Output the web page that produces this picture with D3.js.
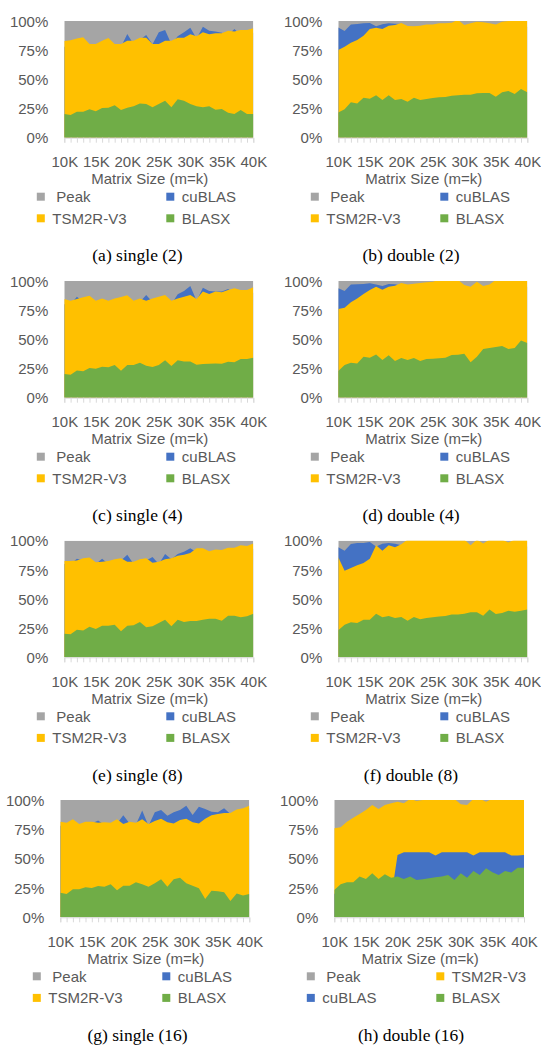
<!DOCTYPE html>
<html>
<head>
<meta charset="utf-8">
<script src="https://cdn.jsdelivr.net/npm/d3@7"></script>
<style>
  html, body { margin: 0; padding: 0; background: #ffffff; }
  svg { display: block; }
</style>
</head>
<body>
<svg id="chart" width="541" height="1045"></svg>
<script>
// ---------- data (percent of peak) ----------
const sizes = [10,11,12,13,14,15,16,17,18,19,20,21,22,23,24,25,26,27,28,29,30,31,32,33,34,35,36,37,38,39,40];
const xTickValues = [10,15,20,25,30,35,40];
const xTickLabels = ["10K","15K","20K","25K","30K","35K","40K"];
const yTickValues = [0,25,50,75,100];
const yTickLabels = ["0%","25%","50%","75%","100%"];
const seriesNames = ["Peak","cuBLAS","TSM2R-V3","BLASX"];

const peak = [100,100,100,100,100,100,100,100,100,100,100,100,100,100,100,100,100,100,100,100,100,100,100,100,100,100,100,100,100,100,100];

// (a) single (2)
const a_cublas = [78,78,80,82,78,78,80,82,78,78,88.9,80,84,88,80,90.3,92.3,80,87,90.3,94.3,85,95.1,91.7,90.9,90,88,93.1,88,88,90];
const a_tsm2r  = [82.9,83.4,85,86,80.3,80.3,83,85.5,80.3,80.3,83,83,85.7,85.7,80.3,80.3,83,83,85.7,85.7,88.6,87,90.3,88.6,89.4,89.4,91.7,90.9,92.3,92.3,93.7];
const a_blasx  = [20.3,19.4,22.3,22.3,24.3,22.6,25.4,25.7,27.7,23.7,25.7,26.9,29.4,28.9,26,28.9,31.7,26,32.9,31.7,28.9,26.9,26,26.9,24,24.6,21.4,20.3,23.7,20.3,20.3];

// (b) double (2)
const b_cublas = [94.5,91.5,97,97.4,98,98.3,95.5,97.2,98,97.7,97.5,90,90,92,93,94,95,95,95,95,93,94,95,95,94,93,95,96,96,96,95];
const b_tsm2r  = [75.1,78,81.4,83.7,87.4,93.1,94.3,93.1,96,96.6,98.3,95.7,95.4,96,97.1,97.1,98,98,98.6,101,96.6,98,99.4,98.9,98,97.1,99.4,100,101,101,100];
const b_blasx  = [21.7,24.3,30.3,29.4,34.3,33.4,36.3,32.3,36.3,32.3,33.1,30.9,34.3,32.3,33.1,34,34.6,34.9,36,36.3,36.9,36.9,38,38.3,38.3,35.1,38.9,40,37.4,41.7,38.9];

// (c) single (4)
const c_cublas = [80,80,86.5,82,84,80,82,80,82,83,84,80,82,88,82,83,84,80,88.6,91.4,95.7,83,94.3,91.4,90.9,90.9,93.1,90,89,89,90];
const c_tsm2r  = [84.6,83.1,84.6,86,87.4,83.1,85.1,83.1,85.1,86.3,87.7,83.1,85.1,83.1,85.1,86.6,88,83.1,85.1,86.6,88,84.6,90.9,88.9,90.9,90.3,92.3,93.7,92.3,92.3,94.6];
const c_blasx  = [20.3,19.7,23.4,22.6,25.4,24.9,26.6,26,28,23.1,28,28,30,27.4,26.3,28,32,27.1,32,31.1,31.1,28.3,28.9,29.1,29.4,29.1,30.9,30.3,33.1,33.1,34.3];

// (d) double (4)
const d_cublas = [93.7,91.4,97.1,97.2,97.5,98,97.1,95.7,97.4,97.2,96,92,93,94,94,95,95,95,95,95,93,92,94,93,94,95,95,95,95,95,95];
const d_tsm2r  = [76,77.1,81.7,85.1,88.9,92.3,95.1,92.6,95.1,96,98.3,97.1,97.7,98.3,98.9,99.4,101,101,101,101,96.6,95.1,99.4,95.7,97.1,101,101,101,101,101,100];
const d_blasx  = [22.9,28,30,29.4,35.1,34.3,37.1,32.3,36.3,31.4,34,32.3,34,31.4,33.1,33.4,33.7,34.3,36.6,36.9,37.7,30.3,35.1,41.7,42.6,43.4,44.3,41.7,42.6,49.1,46.9];

// (e) single (8)
const e_cublas = [80,80,84.5,83,83,80,84.5,80,82,83,88,80,82,83,86,80,88.5,84,88.5,90.5,93.5,90,90,89,90,90,91,91,92,92,93];
const e_tsm2r  = [82.5,82.5,83,85,85.5,81.5,82,82.5,84,85,82,82,84,85,81,82,84,85,87,88,89.5,93.5,93.5,91,92.5,92,94,94,96,95.5,97.5];
const e_blasx  = [20.3,19.7,23.7,22.9,26.3,24.3,27.1,27.1,28,22.3,27.1,27.4,30.3,25.7,26.6,29.4,32.3,26.6,32.3,30.3,31.1,31.1,32.3,33.1,33.1,31.4,35.7,35.7,34.3,35.1,37.4];

// (f) double (8)
const f_cublas = [94.3,91.4,97.1,98,98,98.9,95,97.4,98,97.4,96,93,93,93,93,94,94,94,95,95,95,94,95,95,95,95,95,95,95,95,95];
const f_tsm2r  = [85.7,74.3,76.6,78.9,80.9,84.6,96,91.4,96,94.3,97,101,101,101,101,101,101,101,101,101,101,96,101,97.5,101,101,101,98.5,101,101,101];
const f_blasx  = [23.1,28,30,29.4,32.3,32.3,37.4,34.3,35.4,33.7,34.6,31.4,34.6,32.6,33.7,34.3,34.9,35.4,36.6,36.6,37.4,38.6,38.6,35.7,40.9,37.1,38,40,39.1,40,41.1];

// (g) single (16)
const g_cublas = [78,78,80,77,79,80,82.5,79,78,80,87,80,79,91,78,89.5,91.5,86.6,89.5,91.5,95,87.2,94.3,92.3,90,89.5,93,88,90,91,93];
const g_tsm2r  = [81.5,80.5,83.5,79.5,81.5,81.5,80.5,81,80.5,83.5,79.5,81.5,80.5,83.5,79.5,82,84,81,80,83,84,81,80,84,87,88,89,89,92,93,95];
const g_blasx  = [21,19.9,23.9,23.9,25.6,25,26.7,26.1,28.1,23,27,27,29.8,28.1,26.1,29,32.4,26.1,32.4,33.8,29,27,24.7,15.6,22.7,22.2,21.3,13.9,20.2,18.5,19.9];

// (h) double (16)
const h_cublas = [20,21,22,22,24,24,25,24,25,17,53.1,55.4,55.4,55.4,55.4,55.4,52.6,55.4,55.4,55.4,55.4,55.4,52.6,55.4,55.4,55.4,55.4,55.4,52.6,52.6,53.1];
const h_tsm2r  = [75.9,76.7,81.5,84.9,88.1,91.5,95.7,92.3,95.7,97.2,98.6,97.2,101,99.1,100,101,101,101,101,101,96.3,95.7,101,101,98.6,101,101,101,101,101,101];
const h_blasx  = [23.3,28.1,29.8,29.8,34.7,32.7,37.5,32.7,36.6,33.8,34.7,32.7,34.7,31.8,32.4,33.2,34.1,34.7,36.1,31.8,37.5,33.8,39.5,36.1,41.8,38.4,36.1,39.5,38.1,42.3,42.3];

// ---------- styling / layout ----------
const colors = { "Peak": "#a5a5a5", "cuBLAS": "#4472c4", "TSM2R-V3": "#ffc000", "BLASX": "#70ad47" };
const textColor = "#595959";
const axisFont = "'Liberation Sans', Arial, sans-serif";
const captionFont = "'Liberation Serif', 'Times New Roman', serif";

const panels = [
  { caption: "(a) single (2)",  x0: 64.3,  x1: 253.3, top: 21,    bottom: 137.7, capX: 137.5,
    series: { "Peak": peak, "cuBLAS": a_cublas, "TSM2R-V3": a_tsm2r, "BLASX": a_blasx },
    order: ["Peak","cuBLAS","TSM2R-V3","BLASX"], legend: [["Peak","cuBLAS"],["TSM2R-V3","BLASX"]] },
  { caption: "(b) double (2)",  x0: 338.3, x1: 527.3, top: 21,    bottom: 137.7, capX: 411,
    series: { "Peak": peak, "cuBLAS": b_cublas, "TSM2R-V3": b_tsm2r, "BLASX": b_blasx },
    order: ["Peak","cuBLAS","TSM2R-V3","BLASX"], legend: [["Peak","cuBLAS"],["TSM2R-V3","BLASX"]] },
  { caption: "(c) single (4)",  x0: 64.3,  x1: 253.3, top: 281,   bottom: 397.7, capX: 137.5,
    series: { "Peak": peak, "cuBLAS": c_cublas, "TSM2R-V3": c_tsm2r, "BLASX": c_blasx },
    order: ["Peak","cuBLAS","TSM2R-V3","BLASX"], legend: [["Peak","cuBLAS"],["TSM2R-V3","BLASX"]] },
  { caption: "(d) double (4)",  x0: 338.3, x1: 527.3, top: 281,   bottom: 397.7, capX: 411,
    series: { "Peak": peak, "cuBLAS": d_cublas, "TSM2R-V3": d_tsm2r, "BLASX": d_blasx },
    order: ["Peak","cuBLAS","TSM2R-V3","BLASX"], legend: [["Peak","cuBLAS"],["TSM2R-V3","BLASX"]] },
  { caption: "(e) single (8)",  x0: 64.3,  x1: 253.3, top: 540.7, bottom: 657.3, capX: 137.5,
    series: { "Peak": peak, "cuBLAS": e_cublas, "TSM2R-V3": e_tsm2r, "BLASX": e_blasx },
    order: ["Peak","cuBLAS","TSM2R-V3","BLASX"], legend: [["Peak","cuBLAS"],["TSM2R-V3","BLASX"]] },
  { caption: "(f) double (8)",  x0: 338.3, x1: 527.3, top: 540.7, bottom: 657.3, capX: 411,
    series: { "Peak": peak, "cuBLAS": f_cublas, "TSM2R-V3": f_tsm2r, "BLASX": f_blasx },
    order: ["Peak","cuBLAS","TSM2R-V3","BLASX"], legend: [["Peak","cuBLAS"],["TSM2R-V3","BLASX"]] },
  { caption: "(g) single (16)", x0: 60.3,  x1: 249.3, top: 800,   bottom: 917.3, capX: 137.5,
    series: { "Peak": peak, "cuBLAS": g_cublas, "TSM2R-V3": g_tsm2r, "BLASX": g_blasx },
    order: ["Peak","cuBLAS","TSM2R-V3","BLASX"], legend: [["Peak","cuBLAS"],["TSM2R-V3","BLASX"]] },
  { caption: "(h) double (16)", x0: 334.3, x1: 524,   top: 800,   bottom: 917.3, capX: 411,
    series: { "Peak": peak, "cuBLAS": h_cublas, "TSM2R-V3": h_tsm2r, "BLASX": h_blasx },
    order: ["Peak","TSM2R-V3","cuBLAS","BLASX"], legend: [["Peak","TSM2R-V3"],["cuBLAS","BLASX"]] }
];

const svg = d3.select("#chart");

panels.forEach((p, pi) => {
  const g = svg.append("g");
  const x = d3.scaleLinear().domain([sizes[0], sizes[sizes.length - 1]]).range([p.x0, p.x1]);
  const y = d3.scaleLinear().domain([0, 100]).range([p.bottom, p.top]);

  const clipId = "clip" + pi;
  svg.append("clipPath").attr("id", clipId)
    .append("rect").attr("x", p.x0).attr("y", p.top)
    .attr("width", p.x1 - p.x0).attr("height", p.bottom - p.top);

  const area = d3.area()
    .x((d, i) => x(sizes[i]))
    .y0(y(0))
    .y1(d => y(d));

  const plot = g.append("g").attr("clip-path", `url(#${clipId})`);
  p.order.forEach(name => {
    plot.append("path")
      .datum(p.series[name])
      .attr("d", area)
      .attr("fill", colors[name]);
  });

  // x axis: line + a tick at every category
  const xAxis = d3.axisBottom(x).tickValues(sizes).tickSize(5).tickFormat("");
  const xg = g.append("g").attr("transform", `translate(0,${p.bottom})`).call(xAxis);
  xg.select(".domain").attr("stroke", "#d9d9d9");
  xg.selectAll(".tick line").attr("stroke", "#d9d9d9");

  // x tick labels
  const xl = d3.axisBottom(x).tickValues(xTickValues).tickSize(0)
    .tickFormat((d, i) => xTickLabels[i]);
  const xlg = g.append("g").attr("transform", `translate(0,${p.bottom})`).call(xl);
  xlg.select(".domain").remove();
  xlg.selectAll("text")
    .attr("y", 24.5).attr("dy", "0.35em")
    .attr("fill", textColor)
    .style("font-family", axisFont).style("font-size", "15px");

  // y axis labels
  const yl = d3.axisLeft(y).tickValues(yTickValues).tickSize(0)
    .tickFormat((d, i) => yTickLabels[i]);
  const ylg = g.append("g").attr("transform", `translate(${p.x0},0)`).call(yl);
  ylg.select(".domain").remove();
  ylg.selectAll("text")
    .attr("x", -16).attr("dy", "0.35em")
    .attr("fill", textColor)
    .style("font-family", axisFont).style("font-size", "15px");

  // axis title
  g.append("text")
    .attr("x", (p.x0 + p.x1) / 2 - 9)
    .attr("y", p.bottom + 41.3)
    .attr("dy", "0.35em")
    .attr("text-anchor", "middle")
    .attr("fill", textColor)
    .style("font-family", axisFont).style("font-size", "15px")
    .text("Matrix Size (m=k)");

  // legend
  const rowY = [p.bottom + 59, p.bottom + 80.6];
  const colX = [p.x0 - 27.5, p.x0 + 102];
  p.legend.forEach((row, ri) => {
    row.forEach((name, ci) => {
      const lx = colX[ci], ly = rowY[ri];
      g.append("rect")
        .attr("x", lx).attr("y", ly - 4)
        .attr("width", 8).attr("height", 8)
        .attr("fill", colors[name]);
      g.append("text")
        .attr("x", lx + (name === "Peak" ? 19.5 : 15.5))
        .attr("y", ly).attr("dy", "0.35em")
        .attr("fill", textColor)
        .style("font-family", axisFont).style("font-size", "15px")
        .text(name);
    });
  });

  // caption
  g.append("text")
    .attr("x", p.capX)
    .attr("y", p.bottom + 117.5)
    .attr("dy", "0.35em")
    .attr("text-anchor", "middle")
    .attr("fill", "#000000")
    .style("font-family", captionFont).style("font-size", "17.5px")
    .text(p.caption);
});
</script>
</body>
</html>
